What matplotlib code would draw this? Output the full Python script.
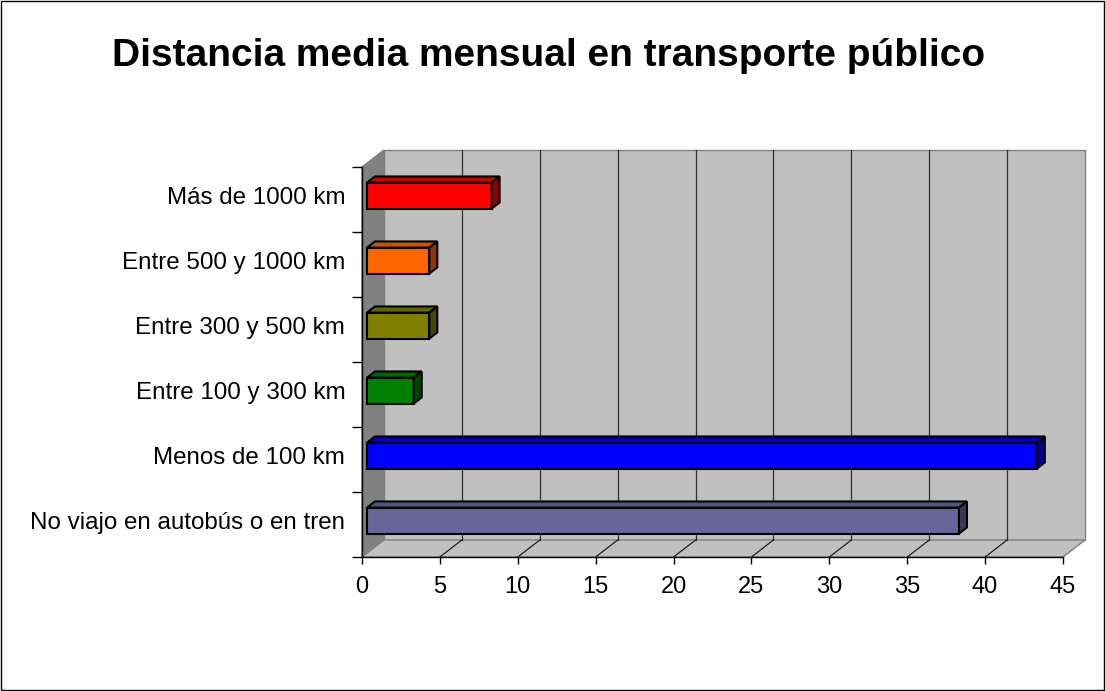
import numpy as np
import matplotlib
matplotlib.use('Agg')
import matplotlib.pyplot as plt
from matplotlib.patches import Polygon, Rectangle
from matplotlib.colors import to_rgb

# data (bottom to top)
categories = ['No viajo en autobús o en tren', 'Menos de 100 km', 'Entre 100 y 300 km',
              'Entre 300 y 500 km', 'Entre 500 y 1000 km', 'Más de 1000 km']
values = [38, 43, 3, 4, 4, 8]
colors = ['#666699', '#0000FF', '#008000', '#808000', '#FF6600', '#FF0000']
x_ticks = [0, 5, 10, 15, 20, 25, 30, 35, 40, 45]
title = 'Distancia media mensual en transporte público'

plt.rcParams['font.family'] = ['Liberation Sans', 'DejaVu Sans']

W, H = 1106, 691
fig = plt.figure(figsize=(W / 100, H / 100), dpi=100)
fig.patch.set_facecolor('white')

# front plane of the 3d box, in pixels
left_px, right_px, top_px, bottom_px = 362, 1063, 167, 557
ax = fig.add_axes([left_px / W, (H - bottom_px) / H, (right_px - left_px) / W, (bottom_px - top_px) / H])
ax.set_facecolor('none')

n = len(categories)
xmax = x_ticks[-1]
ax.set_xlim(0, xmax)
ax.set_ylim(-0.5, n - 0.5)

# depth of the box converted to data units
px_x = (right_px - left_px) / xmax
px_y = (bottom_px - top_px) / n
DX = 22 / px_x
DY = 17 / px_y

wall = '#c0c0c0'
side_wall = '#808080'
edge = '#808080'
y0, y1 = -0.5, n - 0.5

# back wall, left wall, floor
ax.add_patch(Rectangle((DX, y0 + DY), xmax, n, facecolor=wall, edgecolor=edge, lw=1, clip_on=False, zorder=0))
ax.add_patch(Polygon([(0, y0), (0, y1), (DX, y1 + DY), (DX, y0 + DY)], closed=True,
                     facecolor=side_wall, edgecolor=edge, lw=1, clip_on=False, zorder=0))
ax.add_patch(Polygon([(0, y0), (xmax, y0), (xmax + DX, y0 + DY), (DX, y0 + DY)], closed=True,
                     facecolor=wall, edgecolor=edge, lw=1, clip_on=False, zorder=0.5))

# gridlines on back wall and floor
for t in x_ticks[1:-1]:
    ax.plot([t + DX, t + DX], [y0 + DY, y1 + DY], color='#303030', lw=0.9, clip_on=False, zorder=1)
    ax.plot([t, t + DX], [y0, y0 + DY], color='#202020', lw=0.9, clip_on=False, zorder=1)

# bars
f0, f1 = 5 / 22, 13 / 22
bh = 0.4
ypos = np.arange(n)
ax.barh(ypos + f0 * DY, values, height=bh, left=f0 * DX, color=colors,
        edgecolor='black', lw=1.5, zorder=3, clip_on=False)
for y, v, c in zip(ypos, values, colors):
    rgb = np.array(to_rgb(c))
    xl, xr = f0 * DX, v + f0 * DX
    yt = y + f0 * DY + bh / 2
    yb = y + f0 * DY - bh / 2
    ddx, ddy = (f1 - f0) * DX, (f1 - f0) * DY
    top = Polygon([(xl, yt), (xr, yt), (xr + ddx, yt + ddy), (xl + ddx, yt + ddy)], closed=True,
                  facecolor=rgb * 0.8, edgecolor='black', lw=1.5, zorder=3, clip_on=False)
    side = Polygon([(xr, yb), (xr, yt), (xr + ddx, yt + ddy), (xr + ddx, yb + ddy)], closed=True,
                   facecolor=rgb * 0.55, edgecolor='black', lw=1.5, zorder=3, clip_on=False)
    ax.add_patch(top)
    ax.add_patch(side)

# axes
for s in ['top', 'right']:
    ax.spines[s].set_visible(False)
for s in ['left', 'bottom']:
    ax.spines[s].set_color('black')
    ax.spines[s].set_linewidth(1)
    ax.spines[s].set_zorder(4)

ax.set_xticks(x_ticks)
ax.set_xticklabels([str(t) for t in x_ticks])
ax.tick_params(axis='x', length=5, width=1, labelsize=17, pad=9)
ax.set_yticks(np.arange(-0.5, n, 1))
ax.set_yticklabels([])
ax.tick_params(axis='y', which='major', length=7.5, width=1)
ax.set_yticks(ypos + f0 * DY, minor=True)
ax.set_yticklabels(categories, minor=True)
ax.tick_params(axis='y', which='minor', length=0, pad=12, labelsize=17.4)

fig.text(0.496, 1 - 56 / H, title, ha='center', va='center', fontsize=28, fontweight='bold')

# border round the figure
fig.patches.append(Rectangle((0.001, 0.001), 0.997, 0.997, transform=fig.transFigure,
                             fill=False, edgecolor='black', lw=1))

fig.savefig('out.png', dpi=100)
